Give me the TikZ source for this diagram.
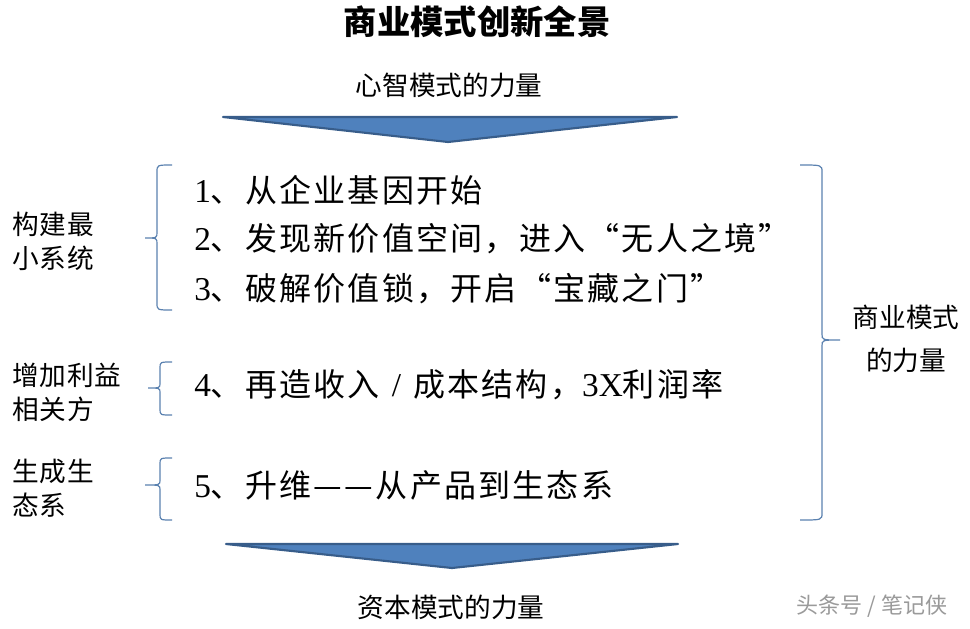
\documentclass[tikz,border=0pt]{standalone}
\usepackage{fontspec}
\setmainfont{Liberation Serif}
\newfontfamily\cjk{Noto Sans CJK SC}
\newfontfamily\cjkitem{Noto Sans CJK SC}[LetterSpace=7]
\newfontfamily\cjkside{Noto Sans CJK SC}[LetterSpace=3]
\definecolor{arrowfill}{HTML}{4F81BD}
\definecolor{arrowline}{HTML}{385D8A}
\definecolor{bracecol}{HTML}{5B82B0}
\definecolor{wmark}{HTML}{9A9A9A}
\tikzset{
  bigarrow/.style={fill=arrowfill,draw=arrowline,line width=1.6pt,line join=round},
  bracestyle/.style={draw=bracecol,line width=0.9pt},
  itemtext/.style={anchor=west,inner sep=0pt,font=\fontsize{24}{28}\selectfont\cjkitem},
  sidetext/.style={anchor=west,inner sep=0pt,align=left,font=\fontsize{20}{25.5}\selectfont\cjkside},
  midtext/.style={inner sep=0pt,font=\fontsize{20}{24}\selectfont\cjk},
}
\newcommand{\dg}[1]{{\fontsize{25}{28}\selectfont\rmfamily #1}}
\begin{document}
\begin{tikzpicture}[x=0.75pt,y=-0.75pt]
\useasboundingbox (0,0) rectangle (970,628);
\fill[white] (0,0) rectangle (970,628);

% title
\node[inner sep=0pt,font=\fontsize{25}{30}\selectfont\cjk\bfseries] (title) at (477,22) {商业模式创新全景};
\node[midtext] (mind) at (449,85) {心智模式的力量};

% top arrow
\coordinate (ta1) at (223,117);
\coordinate (ta2) at (677,117);
\coordinate (ta3) at (448,142);
\draw[bigarrow] (ta1) -- (ta2) -- (ta3) -- cycle;

% bottom arrow
\coordinate (ba1) at (226,544);
\coordinate (ba2) at (678,544);
\coordinate (ba3) at (452,568);
\draw[bigarrow] (ba1) -- (ba2) -- (ba3) -- cycle;
\node[midtext] (capital) at (451,607) {资本模式的力量};

% items
\node[itemtext] (i1) at (194,190) {\dg{1}、从企业基因开始};
\node[itemtext] (i2) at (194,239) {\dg{2}、发现新价值空间，进入“无人之境”};
\node[itemtext] (i3) at (194,289) {\dg{3}、破解价值锁，开启“宝藏之门”};
\node[itemtext] (i4) at (194,385) {\dg{4}、再造收入\hspace{9pt}\dg{/}\hspace{9pt}成本结构，\dg{3X}利润率};
\node[itemtext] (i5) at (194,485) {\dg{5}、升维—\hspace{2pt}—从产品到生态系};

% left labels
\node[sidetext] (l1) at (12,241) {构建最\\小系统};
\node[sidetext] (l2) at (12,392) {增加利益\\相关方};
\node[sidetext] (l3) at (12,488) {生成生\\态系};

% right label
\node[midtext,align=center,font=\fontsize{20}{32}\selectfont\cjk] (r1) at (906,339) {商业模式\\的力量};

% left braces
\draw[bracestyle] (172,165) .. controls (157,165) .. (157,172) -- (157,232) .. controls (157,238) .. (145,238) .. controls (157,238) .. (157,244) -- (157,303) .. controls (157,310) .. (172,310);
\draw[bracestyle] (172,362) .. controls (160,362) .. (160,368) -- (160,383) .. controls (160,388) .. (148,388) .. controls (160,388) .. (160,393) -- (160,409) .. controls (160,415) .. (172,415);
\draw[bracestyle] (172,458) .. controls (160,458) .. (160,464) -- (160,480) .. controls (160,485) .. (145,485) .. controls (160,485) .. (160,490) -- (160,514) .. controls (160,520) .. (172,520);

% right brace
\draw[bracestyle] (800,165) .. controls (822,165) .. (822,172) -- (822,334) .. controls (822,340) .. (840,340) .. controls (822,340) .. (822,346) -- (822,513) .. controls (822,520) .. (800,520);

% watermark
\node[inner sep=0pt,text=wmark,font=\fontsize{16.5}{20}\selectfont\cjk] (wm) at (872,606) {头条号 / 笔记侠};
\end{tikzpicture}
\end{document}
